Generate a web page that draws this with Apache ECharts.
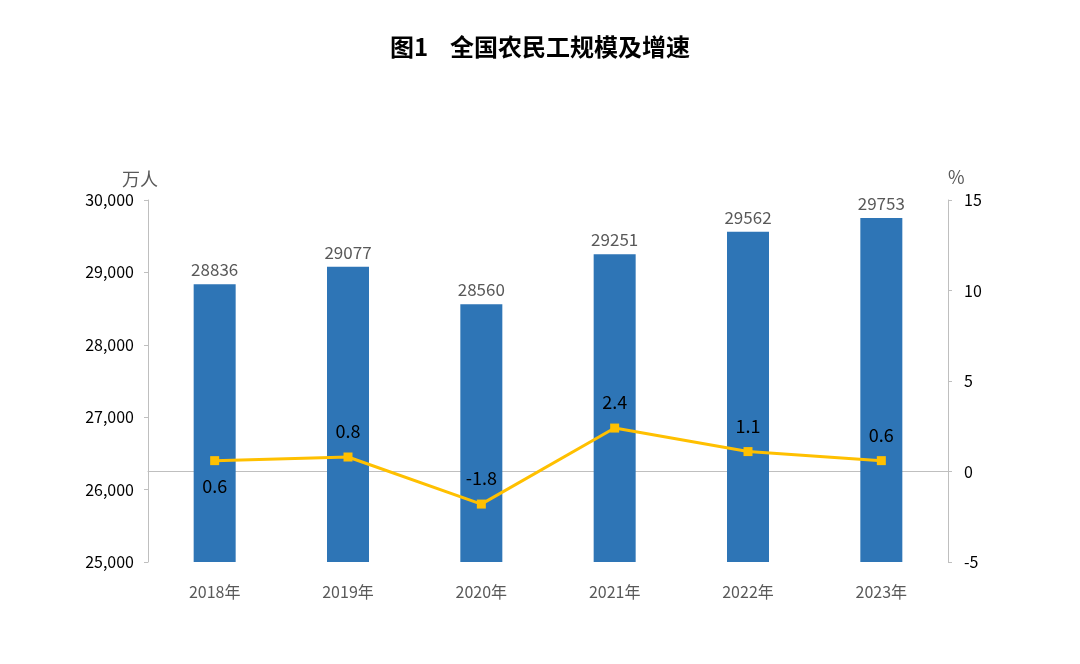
<!DOCTYPE html>
<html>
<head>
<meta charset="utf-8">
<script src="https://cdn.jsdelivr.net/npm/echarts@6/dist/echarts.min.js"></script>
<style>html,body{margin:0;padding:0;background:#fff}#main{width:1080px;height:664px}</style>
</head>
<body>
<div id="main"></div>
<script>
// 数据
const years = ['2018年', '2019年', '2020年', '2021年', '2022年', '2023年']
const workers = [28836, 29077, 28560, 29251, 29562, 29753] // 万人
const growth = [0.6, 0.8, -1.8, 2.4, 1.1, 0.6] // %
const growthLabelPos = ['bottom', 'top', 'top', 'top', 'top', 'top']

const font = '"Noto Sans CJK SC", sans-serif'
const axisGray = '#BFBFBF'
const textGray = '#595959'

const chart = echarts.init(document.getElementById('main'))
chart.setOption({
  animation: false,
  title: {
    text: '图1    全国农民工规模及增速',
    left: 'center',
    top: 30,
    textStyle: { fontFamily: font, fontSize: 24, fontWeight: 'bold', color: '#000' }
  },
  grid: { left: 148, right: 132, top: 200, bottom: 102 },
  xAxis: {
    type: 'category',
    data: years,
    axisLine: { lineStyle: { color: axisGray } },
    axisTick: { show: false },
    axisLabel: { color: textGray, fontSize: 16, fontFamily: font, margin: 22 }
  },
  yAxis: [{
    type: 'value',
    min: 25000,
    max: 30000,
    interval: 1000,
    name: '万人',
    nameGap: 12,
    nameTextStyle: { color: textGray, fontSize: 18, fontFamily: font, align: 'right', padding: [0, -10, 0, 0] },
    axisLine: { show: true, lineStyle: { color: axisGray } },
    axisTick: { show: true, length: 4, lineStyle: { color: axisGray } },
    splitLine: { show: false },
    axisLabel: { color: '#000', fontSize: 16, fontFamily: font, margin: 14 }
  }, {
    type: 'value',
    min: -5,
    max: 15,
    interval: 5,
    name: '%',
    nameGap: 14,
    nameTextStyle: { color: textGray, fontSize: 18, fontFamily: font, align: 'left', padding: [0, 0, 0, 0] },
    axisLine: { show: true, lineStyle: { color: axisGray } },
    axisTick: { show: true, length: 4, lineStyle: { color: axisGray } },
    splitLine: { show: false },
    axisLabel: { color: '#000', fontSize: 16, fontFamily: font, margin: 16 }
  }],
  series: [{
    name: '农民工规模',
    type: 'bar',
    data: workers,
    barWidth: 42,
    itemStyle: { color: '#2E75B6' },
    label: { show: true, position: 'top', color: textGray, fontSize: 17, fontFamily: font, distance: 6 }
  }, {
    name: '增速',
    type: 'line',
    yAxisIndex: 1,
    data: growth.map((v, i) => ({
      value: v,
      label: { position: growthLabelPos[i] }
    })),
    lineStyle: { color: '#FFC000', width: 3 },
    itemStyle: { color: '#FFC000' },
    symbol: 'rect',
    symbolSize: 9,
    label: { show: true, color: '#000', fontSize: 18, fontFamily: font, distance: 12 }
  }]
})
</script>
</body>
</html>
